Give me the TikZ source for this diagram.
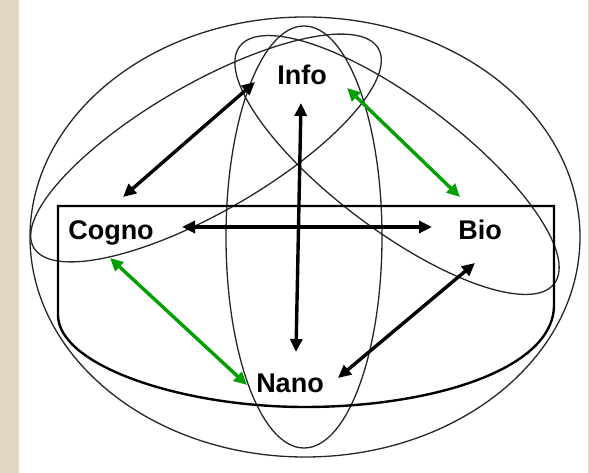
\documentclass[tikz,border=0pt]{standalone}
\usepackage{fontspec}
\setmainfont{Liberation Sans}
\usetikzlibrary{arrows.meta}
\definecolor{paper}{RGB}{224,214,194}
\definecolor{linkgreen}{RGB}{0,160,0}

\begin{document}
\begin{tikzpicture}[x=1pt, y=-1pt,
  ring/.style={black!85, line width=1.3pt},
  link/.style={line width=3.4pt, {Triangle[length=13pt,width=12pt]}-{Triangle[length=13pt,width=12pt]}},
  field/.style={anchor=base, inner sep=0pt, font=\fontsize{27}{30}\selectfont\bfseries}]

  % ── Page and side strips ─────────────────────────────────────────
  \useasboundingbox (0,0) rectangle (590,473);
  \fill[white] (0,0) rectangle (590,473);
  \fill[paper] (0,0) rectangle (19,473);
  \fill[paper] (588,0) rectangle (590,473);

  % ── Outer and vertical ellipses ──────────────────────────────────
  \draw[ring] (305,237) ellipse [x radius=275, y radius=220];
  \draw[ring] (304,237) ellipse [x radius=78, y radius=211];

  % ── Tilted ellipses (Cogno / Info, Info / Bio) ───────────────────
  \draw[ring, shift={(206,148)}, rotate=30]  (0,0) ellipse [x radius=199, y radius=64];
  \draw[ring, shift={(397,165)}, rotate=-37] (0,0) ellipse [x radius=197, y radius=65];

  % ── Horizontal band (Cogno / Bio) ────────────────────────────────
  \draw[line width=2.4pt] (58,206) -- (58,315)
    .. controls (58,365) and (180,407) .. (305,407)
    .. controls (430,407) and (554,370) .. (554,305) -- (554,206) -- cycle;

  % ── Labels ───────────────────────────────────────────────────────
  \node[field] (info)  at (302,85)  {Info};
  \node[field] (cogno) at (111,240) {Cogno};
  \node[field] (bio)   at (480,240) {Bio};
  \node[field] (nano)  at (290,393) {Nano};

  % ── Arrow ends ───────────────────────────────────────────────────
  \coordinate (ic-a) at (255,82);  \coordinate (ic-b) at (123,197);
  \coordinate (ib-a) at (347,88);  \coordinate (ib-b) at (460,197);
  \coordinate (cb-a) at (182,227); \coordinate (cb-b) at (432,227);
  \coordinate (in-a) at (301,103); \coordinate (in-b) at (296,352);
  \coordinate (cn-a) at (110,258); \coordinate (cn-b) at (247,385);
  \coordinate (bn-a) at (475,263); \coordinate (bn-b) at (338,378);

  % ── Links ────────────────────────────────────────────────────────
  \draw[link] (ic-a) -- (ic-b);
  \draw[link] (cb-a) -- (cb-b);
  \draw[link] (in-a) -- (in-b);
  \draw[link] (bn-a) -- (bn-b);
  \draw[link, linkgreen] (ib-a) -- (ib-b);
  \draw[link, linkgreen] (cn-a) -- (cn-b);

\end{tikzpicture}
\end{document}
